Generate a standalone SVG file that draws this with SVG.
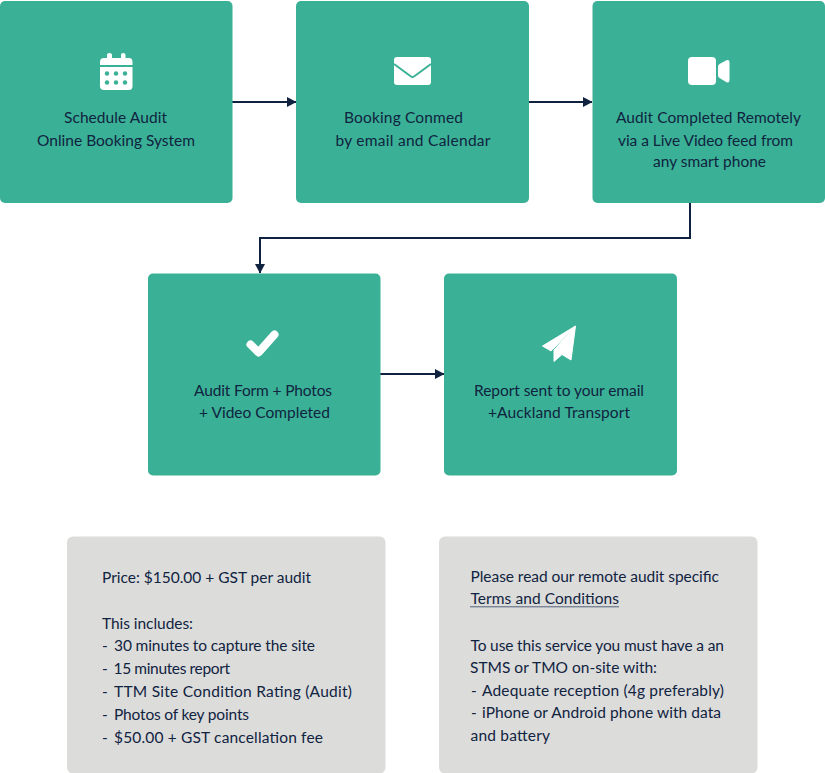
<svg xmlns="http://www.w3.org/2000/svg" width="825" height="773" viewBox="0 0 825 773">
<style>
text{font-family:"Lato","Open Sans","Liberation Sans",sans-serif;font-size:15.5px;fill:#10233f}
.n{fill:#3ab196}
.p{fill:#dcdcdb}
.i{fill:#fff}
.d{fill:#3ab196}
.c{fill:none;stroke:#0f2240;stroke-width:2}
</style>
<defs>
<marker id="a" markerUnits="userSpaceOnUse" markerWidth="10" markerHeight="10" refX="9" refY="5" orient="auto"><path d="M0 0L9.500 5L0 10Z" fill="#0f2240"/></marker>
</defs>
<g id="connectors">
<path class="c" d="M232 102H296" marker-end="url(#a)"/>
<path class="c" d="M529 102H592" marker-end="url(#a)"/>
<path class="c" d="M690 203V238H260V273" marker-end="url(#a)"/>
<path class="c" d="M380 374H444" marker-end="url(#a)"/>
</g>
<g id="node-schedule">
<rect class="n" x="0" y="1" width="232.500" height="202" rx="5"/>
<path class="i" d="M100 62Q100 58 104 58H107V55Q107 53 109.500 53Q112 53 112 55V58H121V55Q121 53 123 53Q125.500 53 125.500 55V58H129Q132.500 58 132.500 62V65H100Z"/>
<path class="i" d="M100 67H132.500V86Q132.500 90 129 90H104Q100 90 100 86Z"/>
<g class="d"><circle cx="107" cy="73.500" r="2.200"/><circle cx="116" cy="73.500" r="2.200"/><circle cx="125" cy="73.500" r="2.200"/><circle cx="107" cy="82.500" r="2.200"/><circle cx="116" cy="82.500" r="2.200"/><circle cx="125" cy="82.500" r="2.200"/></g>
<text x="64" y="123" textLength="103">Schedule Audit</text>
<text x="37" y="146" textLength="158">Online Booking System</text>
</g>
<g id="node-booking">
<rect class="n" x="296" y="1" width="233" height="202" rx="5"/>
<rect class="i" x="394" y="57" width="37" height="28" rx="3"/>
<path d="M394 64L411 76.500Q412.500 77.500 414 76.500L431 64" fill="none" stroke="#3ab196" stroke-width="2"/>
<text x="344" y="123" textLength="119">Booking Conmed</text>
<text x="335.500" y="146" textLength="155">by email and Calendar</text>
</g>
<g id="node-audit-remote">
<rect class="n" x="592.500" y="1" width="232.500" height="202" rx="5"/>
<rect class="i" x="688" y="57" width="28" height="28" rx="4"/>
<path class="i" d="M718 66.500Q718 65 719.500 64L727 60Q729.500 59.500 729.500 62V80Q729.500 83 727 82.500L719.500 78Q718 77 718 75.500Z"/>
<text x="616" y="123" textLength="185">Audit Completed Remotely</text>
<text x="618" y="146" textLength="175">via a Live Video feed from</text>
<text x="653" y="167" textLength="113">any smart phone</text>
</g>
<g id="node-form">
<rect class="n" x="148" y="273.500" width="232.500" height="202" rx="5"/>
<path d="M250.500 344.500L258.500 352.500L274.500 334.500" fill="none" stroke="#fff" stroke-width="8" stroke-linecap="round" stroke-linejoin="round"/>
<text x="194" y="396" textLength="138">Audit Form + Photos</text>
<text x="199" y="418" textLength="131">+ Video Completed</text>
</g>
<g id="node-report">
<rect class="n" x="444" y="273.500" width="233" height="202" rx="5"/>
<path class="i" d="M575.500 326L542.500 346L551 351ZM575.500 326L554 350V361.500L562 354.500L571 360Z" stroke="#fff" stroke-width="1" stroke-linejoin="round"/>
<text x="474" y="396" textLength="170">Report sent to your email</text>
<text x="488" y="418" textLength="142">+Auckland Transport</text>
</g>
<g id="panel-price">
<rect class="p" x="67" y="536.500" width="318.500" height="237" rx="6"/>
<text x="102" y="583" textLength="209">Price: $150.00 + GST per audit</text>
<text x="102" y="629" textLength="91">This includes:</text>
<text x="102" y="651">-</text><text x="114" y="651" textLength="201">30 minutes to capture the site</text>
<text x="102" y="674">-</text><text x="113.500" y="674" textLength="116.500">15 minutes report</text>
<text x="102" y="697">-</text><text x="114" y="697" textLength="238">TTM Site Condition Rating (Audit)</text>
<text x="102" y="720">-</text><text x="114" y="720" textLength="135">Photos of key points</text>
<text x="102" y="743">-</text><text x="114" y="743" textLength="209">$50.00 + GST cancellation fee</text>
</g>
<g id="panel-terms">
<rect class="p" x="439" y="536.500" width="318.500" height="237" rx="6"/>
<text x="470.500" y="582" textLength="248.500">Please read our remote audit specific</text>
<text x="470.500" y="604" textLength="148.500">Terms and Conditions</text>
<path d="M470 606.800H619" stroke="#52637d" stroke-width="1" fill="none"/>
<text x="470.500" y="651" textLength="253.500">To use this service you must have a an</text>
<text x="470" y="673" textLength="187">STMS or TMO on-site with:</text>
<text x="471" y="696">-</text><text x="482" y="696" textLength="242">Adequate reception (4g preferably)</text>
<text x="471" y="718">-</text><text x="482" y="718" textLength="239">iPhone or Android phone with data</text>
<text x="470.500" y="741" textLength="79.500">and battery</text>
</g>
</svg>
